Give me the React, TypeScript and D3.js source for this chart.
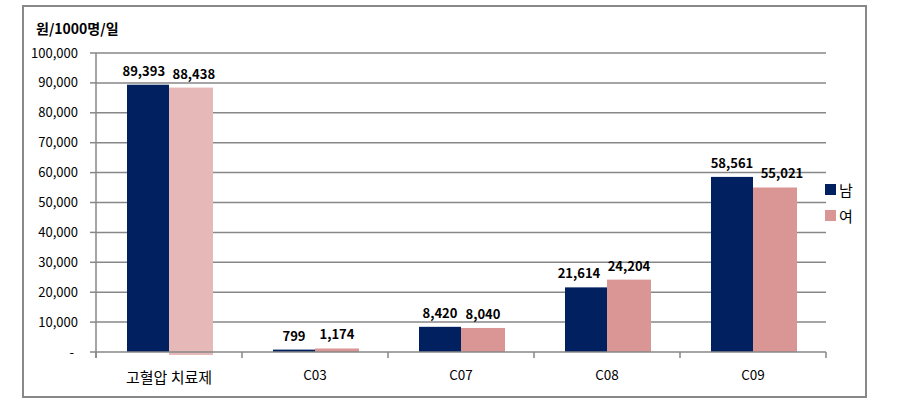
import React from "react";
import * as d3 from "d3";

const categories = ["고혈압 치료제", "C03", "C07", "C08", "C09"];
const maleValues = [89393, 799, 8420, 21614, 58561];
const femaleValues = [88438, 1174, 8040, 24204, 55021];
const yTicks = [0, 10000, 20000, 30000, 40000, 50000, 60000, 70000, 80000, 90000, 100000];
const seriesNames = ["남", "여"];

const W = 904, H = 417;
const left = 96, right = 826, top = 53, bottom = 352;
const navy = "#002060";
const pink = "#D99694";
const pinkLight = "#E6B9B8";
const grid = "#878787";
const font = "'Noto Sans CJK KR', 'Noto Sans', sans-serif";

export default function App() {
  const x = d3.scaleBand<string>().domain(categories).range([left, right]);
  const y = d3.scaleLinear().domain([0, 100000]).range([bottom, top]);
  const bw = 42;
  const fmt = d3.format(",");
  const charW = 7.0;
  return (
    <svg width={W} height={H} style={{ position: "absolute", left: 0, top: 0, fontFamily: font }}>
      <rect x={0} y={0} width={W} height={H} fill="#fff" />
      <rect x={23} y={6} width={843} height={391} fill="none" stroke="#888" strokeWidth={2} />
      <text x={36} y={34} fontSize={14} fontWeight="bold" fill="#000">원/1000명/일</text>
      {yTicks.map((t) => (
        <g key={t}>
          {t > 0 && <line x1={left} x2={right} y1={y(t)} y2={y(t)} stroke={grid} strokeWidth={1.5} />}
          <line x1={90} x2={left} y1={y(t)} y2={y(t)} stroke={grid} strokeWidth={1.5} />
          <text x={t === 0 ? 74 : 78} y={y(t) + 4.5} fontSize={13} textAnchor="end" fill="#000">
            {t === 0 ? "-" : fmt(t)}
          </text>
        </g>
      ))}
      <line x1={left} x2={left} y1={top} y2={bottom + 6} stroke={grid} strokeWidth={1.5} />
      {categories.map((c, i) => {
        const cx = (x(c) as number) + x.bandwidth() / 2;
        const m = maleValues[i], f = femaleValues[i];
        const ml = fmt(m), fl = fmt(f);
        let mx = cx - bw / 2, fx = cx + bw / 2 + 1;
        const closeY = Math.abs(y(m) - y(f)) < 16;
        const need = (ml.length + fl.length) * charW / 2 + 8;
        if (closeY && fx - mx < need) {
          const extra = need - (fx - mx);
          if (i === 0) { mx -= extra * 0.6; fx += extra * 0.4; }
          else if (m < f) mx -= extra;
          else fx += extra;
        }
        return (
          <g key={c}>
            <rect x={cx - bw} y={y(m)} width={bw} height={bottom - y(m)} fill={navy} />
            <rect x={cx} y={y(f)} width={bw + 2} height={bottom - y(f) + (i === 0 ? 3 : 0)} fill={i === 0 ? pinkLight : pink} />
            <text x={mx} y={y(m) - 9} fontSize={13} fontWeight="bold" textAnchor="middle" fill="#000">{ml}</text>
            <text x={fx} y={y(f) - 9} fontSize={13} fontWeight="bold" textAnchor="middle" fill="#000">{fl}</text>
            <text x={cx} y={i === 0 ? 383 : 380} fontSize={i === 0 ? 15 : 13.5} textAnchor="middle" fill="#000">{c}</text>
          </g>
        );
      })}
      <line x1={left} x2={right} y1={bottom} y2={bottom} stroke={grid} strokeWidth={1.5} />
      {d3.range(categories.length + 1).map((i) => {
        const xx = left + i * x.step();
        return <line key={i} x1={xx} x2={xx} y1={bottom} y2={bottom + 6} stroke={grid} strokeWidth={1.5} />;
      })}
      {seriesNames.map((s, i) => (
        <g key={s}>
          <rect x={825} y={184 + i * 26} width={11} height={11} fill={i === 0 ? navy : pink} />
          <text x={839} y={196 + i * 26} fontSize={15} fill="#000">{s}</text>
        </g>
      ))}
    </svg>
  );
}
